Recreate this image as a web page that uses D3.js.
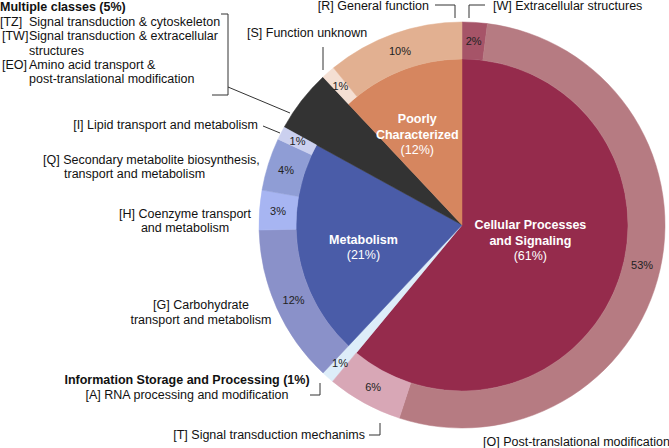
<!DOCTYPE html>
<html>
<head>
<meta charset="utf-8">
<script src="https://cdn.jsdelivr.net/npm/d3@7"></script>
<style>
  body { margin: 0; background: #fff; }
  text { font-family: "Liberation Sans", Arial, Helvetica, sans-serif; }
</style>
</head>
<body>
<svg id="chart" width="669" height="448"></svg>
<script>
// COG classes (inner ring) and their subclasses (outer ring), in % of proteins
const groupNames = ["Cellular Processes and Signaling", "Information Storage and Processing", "Metabolism", "Multiple classes", "Poorly Characterized"];
const groupValues = [61, 1, 21, 5, 12];
const groupLines = [["Cellular Processes", "and Signaling"], [], ["Metabolism"], [], ["Poorly", "Characterized"]];

const subCodes = ["W", "O", "T", "A", "G", "H", "Q", "I", "TZ/TW/EO", "S", "R"];
const subGroup = [0, 0, 0, 1, 2, 2, 2, 2, 3, 4, 4];
const subValues = [2, 53, 6, 1, 12, 3, 4, 1, 5, 1, 10];

const groupColors = ["#952b4c", "#ddedf9", "#4a5ca8", "#333333", "#d6865f"];
const subColors = ["#a65468", "#b67b82", "#d8a7b6", "#ddedf9", "#8a91c9", "#a7b5f2", "#8f9dd5", "#cbd0ef", "#333333", "#f4dfd3", "#e2b091"];
const fullRadius = new Set([1, 3]);   // drawn as one wedge out to the outer edge
const noRingLabel = new Set([8]);

const svg = d3.select("#chart");
const cx = 462, cy = 225;
const rInner = 166, rOuter = 203;

const g = svg.append("g").attr("transform", `translate(${cx},${cy})`);

// inner pie
const pie = d3.pie().sort(null).value(d => d)(groupValues);
const arcIn = d3.arc().innerRadius(0);
g.selectAll("path.group")
  .data(pie)
  .join("path")
  .attr("class", "group")
  .attr("fill", (d, i) => groupColors[i])
  .attr("stroke", (d, i) => groupColors[i])
  .attr("stroke-width", 0.5)
  .attr("d", (d, i) => arcIn.outerRadius(fullRadius.has(i) ? rOuter : rInner)(d));

// outer ring: children spread over the angle of their parent
const subArcs = [];
groupValues.forEach((v, gi) => {
  const idx = subValues.map((s, i) => i).filter(i => subGroup[i] === gi);
  const p = d3.pie().sort(null)
    .startAngle(pie[gi].startAngle).endAngle(pie[gi].endAngle)
    .value(i => subValues[i])(idx);
  p.forEach(a => subArcs.push({ ...a, i: a.data }));
});

const arcOut = d3.arc().innerRadius(rInner).outerRadius(rOuter);
g.selectAll("path.sub")
  .data(subArcs.filter(d => !fullRadius.has(subGroup[d.i])))
  .join("path")
  .attr("class", "sub")
  .attr("fill", d => subColors[d.i])
  .attr("stroke", d => subColors[d.i])
  .attr("stroke-width", 0.5)
  .attr("d", arcOut);

// percent labels in the ring
g.selectAll("text.pct")
  .data(subArcs.filter(d => !noRingLabel.has(d.i)))
  .join("text")
  .attr("class", "pct")
  .attr("transform", d => `translate(${arcOut.centroid(d)})`)
  .attr("text-anchor", "middle")
  .attr("dy", "0.35em")
  .attr("font-size", 11)
  .attr("fill", "#222")
  .text(d => subValues[d.i] + "%");

// labels inside the inner pie
const inLabel = { 0: { r: 70, da: -7.4 }, 2: { r: 101, da: -3.5 }, 4: { r: 101, da: -4.7 } };
pie.forEach((d, i) => {
  if (!inLabel[i]) return;
  const a = (d.startAngle + d.endAngle) / 2 + inLabel[i].da * Math.PI / 180;
  const x = Math.sin(a) * inLabel[i].r, y = -Math.cos(a) * inLabel[i].r;
  const lines = groupLines[i].concat([`(${groupValues[i]}%)`]);
  const t = g.append("text")
    .attr("text-anchor", "middle")
    .attr("fill", "#fff")
    .attr("font-size", 12.5);
  lines.forEach((l, k) => {
    t.append("tspan")
      .attr("x", x)
      .attr("y", y + (k - (lines.length - 1) / 2) * 15.5 + 4.5)
      .attr("font-weight", k < lines.length - 1 ? "bold" : "normal")
      .text(l);
  });
});

// outside annotations
const notes = [
  { x: 429, y: 10, anchor: "end", text: "[R] General function" },
  { x: 493, y: 10, anchor: "start", text: "[W] Extracellular structures" },
  { x: 247, y: 37, anchor: "start", text: "[S] Function unknown" },
  { x: 0, y: 11, anchor: "start", text: "Multiple classes (5%)", bold: true },
  { x: 0, y: 26, anchor: "start", text: "[TZ]" },
  { x: 29, y: 26, anchor: "start", text: "Signal transduction & cytoskeleton" },
  { x: 2, y: 40, anchor: "start", text: "[TW]" },
  { x: 29, y: 40, anchor: "start", text: "Signal transduction & extracellular" },
  { x: 29, y: 55, anchor: "start", text: "structures" },
  { x: 2, y: 69, anchor: "start", text: "[EO]" },
  { x: 29, y: 69, anchor: "start", text: "Amino acid transport &" },
  { x: 29, y: 83, anchor: "start", text: "post-translational modification" },
  { x: 258, y: 129, anchor: "end", text: "[I] Lipid transport and metabolism" },
  { x: 43, y: 164, anchor: "start", text: "[Q] Secondary metabolite biosynthesis," },
  { x: 64, y: 178, anchor: "start", text: "transport and metabolism" },
  { x: 185, y: 218, anchor: "middle", text: "[H] Coenzyme transport" },
  { x: 185, y: 232, anchor: "middle", text: "and metabolism" },
  { x: 201, y: 309, anchor: "middle", text: "[G] Carbohydrate" },
  { x: 201, y: 324, anchor: "middle", text: "transport and metabolism" },
  { x: 187, y: 384, anchor: "middle", text: "Information Storage and Processing (1%)", bold: true },
  { x: 187, y: 399, anchor: "middle", text: "[A] RNA processing and modification" },
  { x: 365, y: 439, anchor: "end", text: "[T] Signal transduction mechanims" },
  { x: 483, y: 446, anchor: "start", text: "[O] Post-translational modification" }
];
svg.append("g").selectAll("text")
  .data(notes)
  .join("text")
  .attr("x", d => d.x)
  .attr("y", d => d.y)
  .attr("text-anchor", d => d.anchor)
  .attr("font-size", 12.5)
  .attr("font-weight", d => d.bold ? "bold" : "normal")
  .attr("fill", "#111")
  .text(d => d.text);

// leader lines
const leaders = [
  [[435, 5], [455, 5], [455, 18]],
  [[485, 5], [469, 5], [469, 18]],
  [[323, 47], [323, 70]],
  [[221, 14], [228, 14], [228, 95], [212, 95]],
  [[228, 87], [290, 113]],
  [[263, 126], [280, 133]],
  [[320, 383], [320, 395], [310, 395]],
  [[369, 435], [380, 435], [380, 423]]
];
svg.append("g").selectAll("path")
  .data(leaders)
  .join("path")
  .attr("fill", "none")
  .attr("stroke", "#333")
  .attr("stroke-width", 1)
  .attr("d", d3.line());
</script>
</body>
</html>
